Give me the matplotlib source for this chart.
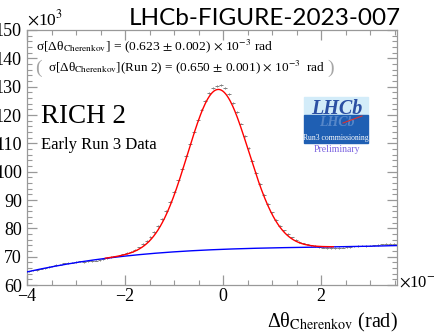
import numpy as np
import matplotlib
matplotlib.use("Agg")
import matplotlib.pyplot as plt
from matplotlib.ticker import MultipleLocator
from matplotlib.patches import Rectangle

'''
RICH 2 Cherenkov angle resolution, early Run 3 data
'''

# bin centres (x 1e-3 rad), width 0.08
bin_width = 0.08
x_centres = np.arange(-3.96, 3.57, bin_width)

# entries per bin (x 1e3)
counts = [64.8, 65.2, 65.3, 65.8, 65.9, 66.4, 66.6, 67.1, 67.2, 67.6,
          67.8, 67.9, 68.2, 68.3, 68.2, 68.3, 68.4, 68.6, 68.9, 69.1,
          69.5, 69.9, 70.1, 70.4, 70.8, 71.3, 71.8, 72.5, 73.3, 74.4,
          75.6, 76.9, 78.7, 80.8, 83.3, 86.2, 89.4, 92.9, 96.9, 101.0,
          105.4, 109.7, 114.0, 118.2, 121.8, 125.1, 127.6, 129.4, 130.2, 130.5,
          129.5, 127.3, 124.4, 120.9, 117.0, 112.6, 108.3, 103.9, 99.6, 95.6,
          91.8, 88.5, 85.6, 83.1, 81.0, 79.3, 77.9, 76.8, 75.9, 75.2,
          74.7, 74.3, 74.0, 73.7, 73.4, 73.2, 73.1, 73.0, 73.1, 73.0,
          73.2, 73.3, 73.5, 73.6, 73.8, 73.9, 73.8, 73.9, 74.0, 74.1,
          74.3, 74.6, 74.5, 74.6, 74.5]

# fit results: gaussian signal + cubic background
sig_amp = 56.5
sig_mean = -0.10
sig_width = 0.623
bkg_coef = [0.033, -0.2, 0.667, 72.6]   # highest power first

x_min, x_max = -4.0, 3.55
fit_min, fit_max = -2.4, 2.25


def background(x):
    return np.polyval(bkg_coef, x)


def total_fit(x):
    return background(x) + sig_amp * np.exp(-0.5 * ((x - sig_mean) / sig_width)**2)


plt.rcParams['font.family'] = ['Liberation Serif', 'DejaVu Serif']
plt.rcParams['mathtext.fontset'] = 'stix'

W, H = 434, 335
fig = plt.figure(figsize=(W / 100, H / 100), dpi=100)
ax = fig.add_axes([27 / W, 1 - 285 / H, (397 - 27) / W, (285 - 30) / H])

counts = np.array(counts)
ax.errorbar(x_centres, counts, xerr=bin_width / 2, yerr=np.sqrt(counts * 1e3) / 1e3,
            fmt='none', ecolor='0.5', elinewidth=0.7, zorder=2)

xb = np.linspace(x_min, x_max, 300)
ax.plot(xb, background(xb), color='blue', lw=1.0, zorder=3)
xf = np.linspace(fit_min, fit_max, 300)
ax.plot(xf, total_fit(xf), color='red', lw=1.0, zorder=4)

ax.set_xlim(x_min, x_max)
ax.set_ylim(60, 150)

ax.xaxis.set_major_locator(MultipleLocator(2))
ax.xaxis.set_minor_locator(MultipleLocator(0.5))
ax.yaxis.set_major_locator(MultipleLocator(10))
ax.yaxis.set_minor_locator(MultipleLocator(2))
ax.tick_params(which='both', direction='in', top=True, right=True, color='0.6',
               labelsize=13)
ax.tick_params(which='major', length=7.5, width=0.9)
ax.tick_params(which='minor', length=3.5, width=0.8)
ax.tick_params(axis='y', pad=3.7)
ax.tick_params(axis='x', pad=2)
for sp in ax.spines.values():
    sp.set_color('0.6')
    sp.set_linewidth(0.9)

# axis multipliers and label
fig.text(27 / W, 1 - 25 / H, r"$\times$10$^{3}$", fontsize=12.5, va='baseline')
fig.text(399 / W, 1 - 287 / H, r"$\times$10$^{-3}$", fontsize=12, va='baseline')
fig.text(398 / W, 1 - 327 / H, r"Δθ$_{\mathrm{Cherenkov}}$ (rad)",
         fontsize=14.5, ha='right', va='baseline')

# figure id
fig.text(401 / W, 1 - 25 / H, "LHCb-FIGURE-2023-007", family='Lato',
         fontsize=17.5, ha='right', va='baseline')

# resolution annotations
ax.text(36 / W, 1 - 50 / H,
        r"σ[Δθ$_{\mathrm{Cherenkov}}$] = (0.623 $\pm$ 0.002) $\times$ 10$^{-3}$ rad",
        transform=fig.transFigure, fontsize=9.7, va='baseline')
ax.text(35 / W, 1 - 73 / H, "(", transform=fig.transFigure, fontsize=14,
        color='0.65', va='baseline')
ax.text(48 / W, 1 - 71 / H,
        r"σ[Δθ$_{\mathrm{Cherenkov}}$](Run 2) = (0.650 $\pm$ 0.001) $\times$ 10$^{-3}$  rad",
        transform=fig.transFigure, fontsize=9.5, va='baseline')
ax.text(327 / W, 1 - 73 / H, ")", transform=fig.transFigure, fontsize=14,
        color='0.65', va='baseline')

ax.text(41 / W, 1 - 123 / H, "RICH 2", transform=fig.transFigure, fontsize=19.5,
        va='baseline')
ax.text(41 / W, 1 - 149 / H, "Early Run 3 Data", transform=fig.transFigure,
        fontsize=12, va='baseline')

# LHCb logo
lx0, lx1, ly0, lym, ly1 = 304, 368, 97, 115, 143
fig.patches.append(Rectangle((lx0 / W, 1 - lym / H), (lx1 - lx0) / W, (lym - ly0) / H,
                             transform=fig.transFigure, color='#d3ecf9', zorder=5))
fig.patches.append(Rectangle((lx0 / W, 1 - ly1 / H), (lx1 - lx0) / W, (ly1 - lym) / H,
                             transform=fig.transFigure, color='#1f5fb3', zorder=5))
fig.text(337 / W, 1 - 114 / H, "LHCb", fontsize=14.5, style='italic', weight='bold',
         color='#2b4fa3', ha='center', va='baseline', zorder=6)
fig.text(337 / W, 1 - 116 / H, "LHCb", fontsize=10, style='italic', weight='bold',
         color='#8fb0e0', ha='center', va='top', alpha=0.5, zorder=6)
fig.lines.append(plt.Line2D([343 / W, 362 / W], [1 - 123 / H, 1 - 116 / H],
                            transform=fig.transFigure, color='#e03030', lw=0.8, zorder=7))
fig.text(336 / W, 1 - 140 / H, "Run3 commissioning", fontsize=5.5, color='white',
         ha='center', va='baseline', zorder=7)
fig.text(337 / W, 1 - 152 / H, "Preliminary", fontsize=7, color='#7b63e0',
         ha='center', va='baseline')

fig.savefig("out.png", dpi=100)
